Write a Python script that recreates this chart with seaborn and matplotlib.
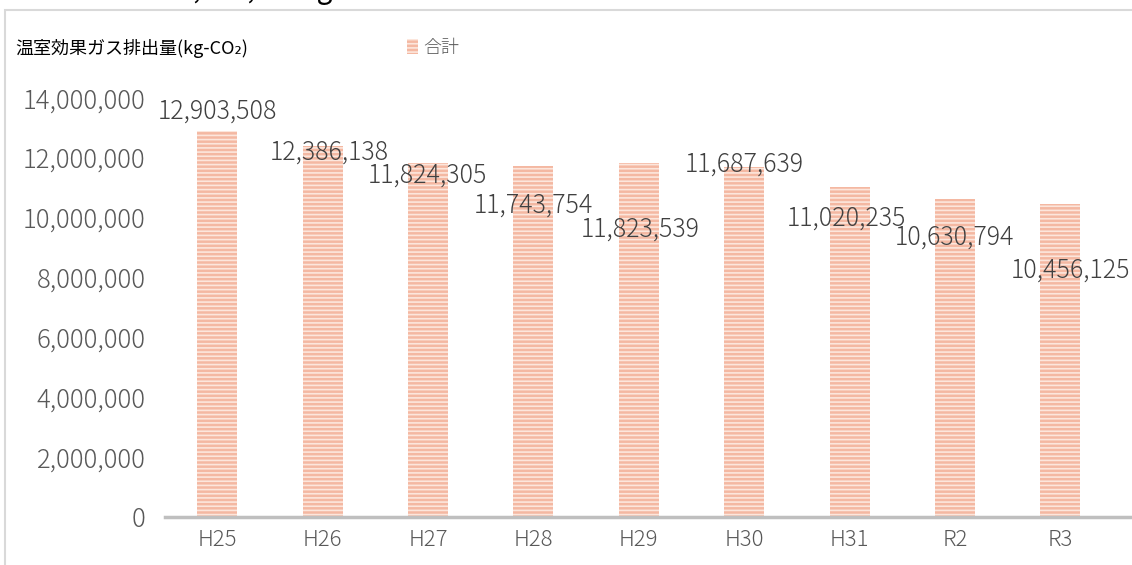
import matplotlib
matplotlib.use('Agg')
import matplotlib.pyplot as plt
import matplotlib.patches as mpatches
import seaborn as sns

# データ
years = ['H25', 'H26', 'H27', 'H28', 'H29', 'H30', 'H31', 'R2', 'R3']
emissions = [12903508, 12386138, 11824305, 11743754, 11823539,
             11687639, 11020235, 10630794, 10456125]
y_ticks = [0, 2000000, 4000000, 6000000, 8000000, 10000000, 12000000, 14000000]

# データラベルのずれ (px)
label_dx = [0, 7, -1, 0, 1, 0, -3, 0, 10]
label_dy = [19, -6, -12, -40, -66, 3, -31, -39, -66]

sns.set_style('white')
plt.rcParams['font.family'] = ['Noto Sans CJK JP', 'DejaVu Sans']
plt.rcParams['font.weight'] = 'light'
plt.rcParams['hatch.linewidth'] = 1.2

bar_face = '#F4B8A2'
stripe = '#FCE6DC'
gray = '#595959'

fig = plt.figure(figsize=(11.32, 5.65), dpi=100)
ax = fig.add_axes([165 / 1132, 48 / 565, 967 / 1132, 419 / 565])

sns.barplot(x=years, y=emissions, color=bar_face, width=0.38, saturation=1, ax=ax)
for p in ax.patches:
    p.set_hatch('----')
    p.set_edgecolor(stripe)
    p.set_linewidth(0)

ax.set_xlim(-0.495, 8.68)
ax.set_ylim(0, 14000000)
ax.set_yticks(y_ticks)
ax.set_yticklabels([f'{v:,}' for v in y_ticks])
ax.tick_params(axis='y', length=0, pad=14, labelsize=18.5, labelcolor=gray)
ax.tick_params(axis='x', length=0, pad=9, labelsize=16, labelcolor=gray)
ax.set_xlabel('')
ax.set_ylabel('')
for s in ['top', 'right', 'left']:
    ax.spines[s].set_visible(False)
ax.spines['bottom'].set_color('#BFBFBF')
ax.spines['bottom'].set_linewidth(2.5)

for i, v in enumerate(emissions):
    ax.annotate(f'{v:,}', xy=(i, v), xytext=(label_dx[i], label_dy[i]),
                textcoords='offset pixels', ha='center', va='center',
                fontsize=18, color='#404040')

# 枠
fig.add_artist(mpatches.Rectangle((5 / 1132, -0.05), 1.1, 1 - 9.5 / 565 + 0.05,
                                  transform=fig.transFigure, fill=False,
                                  edgecolor='#D9D9D9', linewidth=1.5))

fig.text(15 / 1132, 1 - 48 / 565, '温室効果ガス排出量(kg-CO₂)', fontsize=13,
         va='center', ha='left', color='black', fontweight='normal')

handle = mpatches.Patch(facecolor=bar_face, edgecolor=stripe, hatch='----', linewidth=0)
fig.legend([handle], ['合計'], loc='center left', bbox_to_anchor=(391 / 1132, 1 - 48 / 565),
           frameon=False, handlelength=0.6, handleheight=0.9, handletextpad=0.3,
           fontsize=13, labelcolor=gray)

# 上の切れた本文
fig.text(-4 / 1132, 1 + 2 / 565, '度において、12,903,508kg-CO₂となっています。',
         fontsize=20, va='baseline', ha='left', color='black', fontweight='normal')

fig.savefig('out.png', dpi=100)
